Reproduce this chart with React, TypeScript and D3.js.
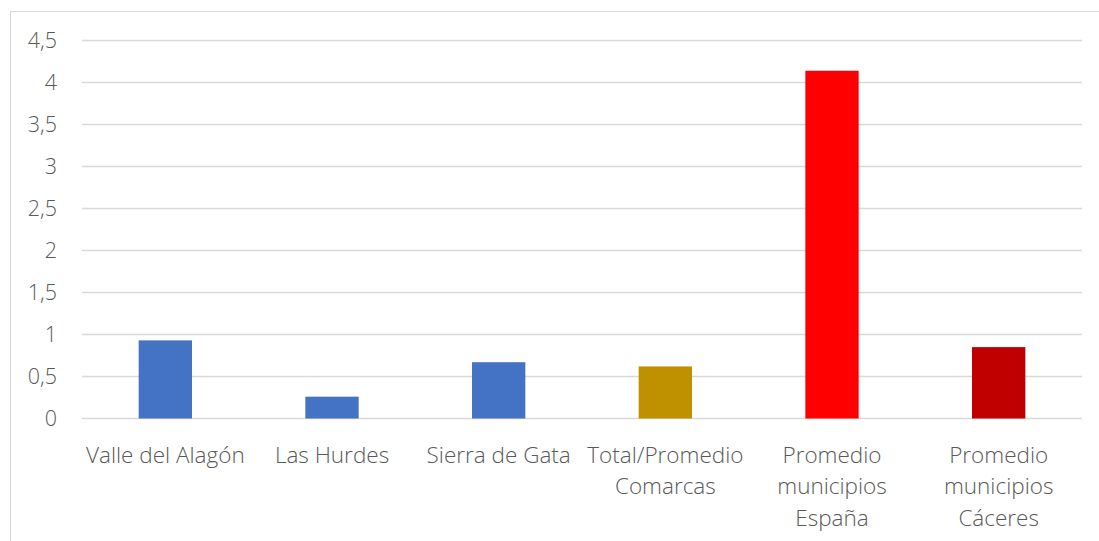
import { useEffect, useRef } from "react"
import * as d3 from "d3"

const categories = [
  "Valle del Alagón",
  "Las Hurdes",
  "Sierra de Gata",
  "Total/Promedio\nComarcas",
  "Promedio\nmunicipios\nEspaña",
  "Promedio\nmunicipios\nCáceres",
]
const values = [0.93, 0.26, 0.67, 0.62, 4.14, 0.85]
const barColors = ["#4472C4", "#4472C4", "#4472C4", "#BF9000", "#FF0000", "#C00000"]
const yTicks = [0, 0.5, 1, 1.5, 2, 2.5, 3, 3.5, 4, 4.5]

export default function App() {
  const svgRef = useRef<SVGSVGElement>(null)

  useEffect(() => {
    if (!svgRef.current) return
    const width = 1099
    const height = 541
    d3.select(svgRef.current).selectAll("*").remove()

    const svg = d3.select(svgRef.current).attr("width", width).attr("height", height)

    // chart frame (cut off at right and bottom)
    svg
      .append("rect")
      .attr("x", 10.5)
      .attr("y", 11.5)
      .attr("width", 1100)
      .attr("height", 560)
      .attr("fill", "white")
      .attr("stroke", "#D9D9D9")

    const margin = { left: 82, right: 16, top: 40.5, bottom: 122.5 }
    const x = d3
      .scaleBand()
      .domain(categories)
      .range([margin.left, width - margin.right - 1])
      .paddingInner(0.68)
      .paddingOuter(0.34)

    const y = d3
      .scaleLinear()
      .domain([0, 4.5])
      .range([height - margin.bottom, margin.top])

    const font = "'Open Sans', 'Noto Sans', sans-serif"

    // gridlines
    svg
      .append("g")
      .selectAll("line")
      .data(yTicks)
      .enter()
      .append("line")
      .attr("x1", margin.left)
      .attr("x2", width - margin.right - 1)
      .attr("y1", (d) => y(d))
      .attr("y2", (d) => y(d))
      .attr("stroke", "#D9D9D9")
      .attr("stroke-width", 1.3)

    // y tick labels
    svg
      .append("g")
      .selectAll("text")
      .data(yTicks)
      .enter()
      .append("text")
      .attr("x", 57)
      .attr("y", (d) => y(d))
      .attr("dy", "0.35em")
      .attr("text-anchor", "end")
      .attr("font-family", font)
      .attr("font-weight", 300)
      .attr("font-size", 21.5)
      .attr("fill", "#595959")
      .text((d) => String(d).replace(".", ","))

    // bars
    svg
      .append("g")
      .selectAll("rect")
      .data(categories)
      .enter()
      .append("rect")
      .attr("x", (d) => x(d)!)
      .attr("width", x.bandwidth())
      .attr("y", (d, i) => y(values[i]))
      .attr("height", (d, i) => y(0) - y(values[i]))
      .attr("fill", (d, i) => barColors[i])

    // category labels
    const labels = svg
      .append("g")
      .selectAll("text")
      .data(categories)
      .enter()
      .append("text")
      .attr("text-anchor", "middle")
      .attr("font-family", font)
      .attr("font-weight", 300)
      .attr("font-size", 22.5)
      .attr("fill", "#595959")
      .attr("transform", (d) => `translate(${x(d)! + x.bandwidth() / 2},${y(0) + 44})`)

    labels
      .selectAll("tspan")
      .data((d) => d.split("\n"))
      .enter()
      .append("tspan")
      .attr("x", 0)
      .attr("y", (d, i) => i * 31.5)
      .text((d) => d)
  }, [])

  return (
    <div style={{ position: "absolute", left: 0, top: 0 }}>
      <svg ref={svgRef}></svg>
    </div>
  )
}
